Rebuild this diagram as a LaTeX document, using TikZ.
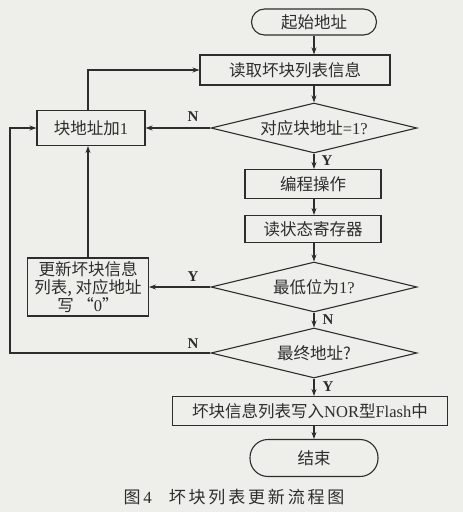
\documentclass[tikz,border=0pt]{standalone}
\usepackage{fontspec}
\setmainfont{Liberation Serif}
\newfontfamily\cjk{Noto Sans CJK SC}
\usetikzlibrary{shapes.geometric,arrows.meta}
\definecolor{bg}{RGB}{238,238,234}
\definecolor{ink}{RGB}{45,45,45}
\begin{document}
\begin{tikzpicture}[x=1pt,y=-1pt,
  base/.style={draw=ink, line width=1.1pt, text=ink, inner sep=0pt,
    font=\cjk\fontsize{16.5}{18}\selectfont},
  procbox/.style={base, rectangle},
  termbox/.style={base, rectangle},
  decbox/.style={base, diamond, aspect=4.5, minimum width=206pt, minimum height=50pt},
  arr/.style={draw=ink, line width=1.1pt, -{Stealth[length=7pt,width=5pt]}},
  lab/.style={text=ink, inner sep=0pt, font=\rmfamily\bfseries\fontsize{15}{16}\selectfont}]
\fill[bg] (0,0) rectangle (463,512);
\useasboundingbox (0,0) rectangle (463,512);

\node[termbox, minimum width=125pt, minimum height=26pt, rounded corners=13pt] (start) at (314,22) {起始地址};
\node[procbox, minimum width=190pt, minimum height=30pt] (read) at (295,70) {读取坏块列表信息};
\node[decbox] (d1) at (314,128) {对应块地址\rmfamily =1?};
\node[procbox, minimum width=108pt, minimum height=35pt] (blk) at (91,128) {块地址加\rmfamily 1};
\node[procbox, minimum width=136pt, minimum height=29pt] (prog) at (313,184) {编程操作};
\node[procbox, minimum width=136pt, minimum height=27pt] (rsr) at (313,229) {读状态寄存器};
\node[decbox] (d2) at (314,287) {最低位为\rmfamily 1?};
\node[procbox, minimum width=121pt, minimum height=58pt, align=center] (upd) at (88,287)
  {更新坏块信息\\列表, 对应地址\\写 “\rmfamily 0\cjk ”};
\node[decbox] (d3) at (314,353) {最终地址?};
\node[procbox, minimum width=275pt, minimum height=29pt] (wr) at (310,411) {坏块信息列表写入\rmfamily NOR\cjk 型\rmfamily Flash\cjk 中};
\node[termbox, minimum width=128pt, minimum height=37pt, rounded corners=18pt] (end) at (314,458) {结束};

\node[text=ink, font=\cjk\fontsize{17}{19}\selectfont] (cap) at (234,497) {图\,{\rmfamily 4}\quad 坏\,块\,列\,表\,更\,新\,流\,程\,图};

% main chain
\draw[arr] (start) -- (start |- read.north);
\draw[arr] (d1.north |- read.south) -- (d1.north);
\draw[arr] (d1.south) -- (d1.south |- prog.north);
\draw[arr] (prog.south -| d1.south) -- (d1.south |- rsr.north);
\draw[arr] (rsr.south -| d2.north) -- (d2.north);
\draw[arr] (d2.south) -- (d3.north);
\draw[arr] (d3.south) -- (d3.south |- wr.north);
\draw[arr] (d3.south |- wr.south) -- (end.north);

% side branches
\draw[arr] (d1.west) -- (blk.east);
\draw[arr] (d2.west) -- (upd.east);
\coordinate (bt) at (88,0);
\draw[arr] (bt |- blk.north) -- (bt |- read.west) -- (read.west);
\draw[arr] (bt |- upd.north) -- (bt |- blk.south);
\coordinate (lx) at (10,0);
\draw[arr] (d3.west) -- (lx |- d3.west) -- (lx |- blk.west) -- (blk.west);

% labels
\node[lab] (n1) at (193,117) {N};
\node[lab] (y1) at (327,161) {Y};
\node[lab] (y2) at (193,277) {Y};
\node[lab] (n2) at (328,320) {N};
\node[lab] (n3) at (193,344) {N};
\node[lab] (y3) at (328,387) {Y};
\end{tikzpicture}
\end{document}
